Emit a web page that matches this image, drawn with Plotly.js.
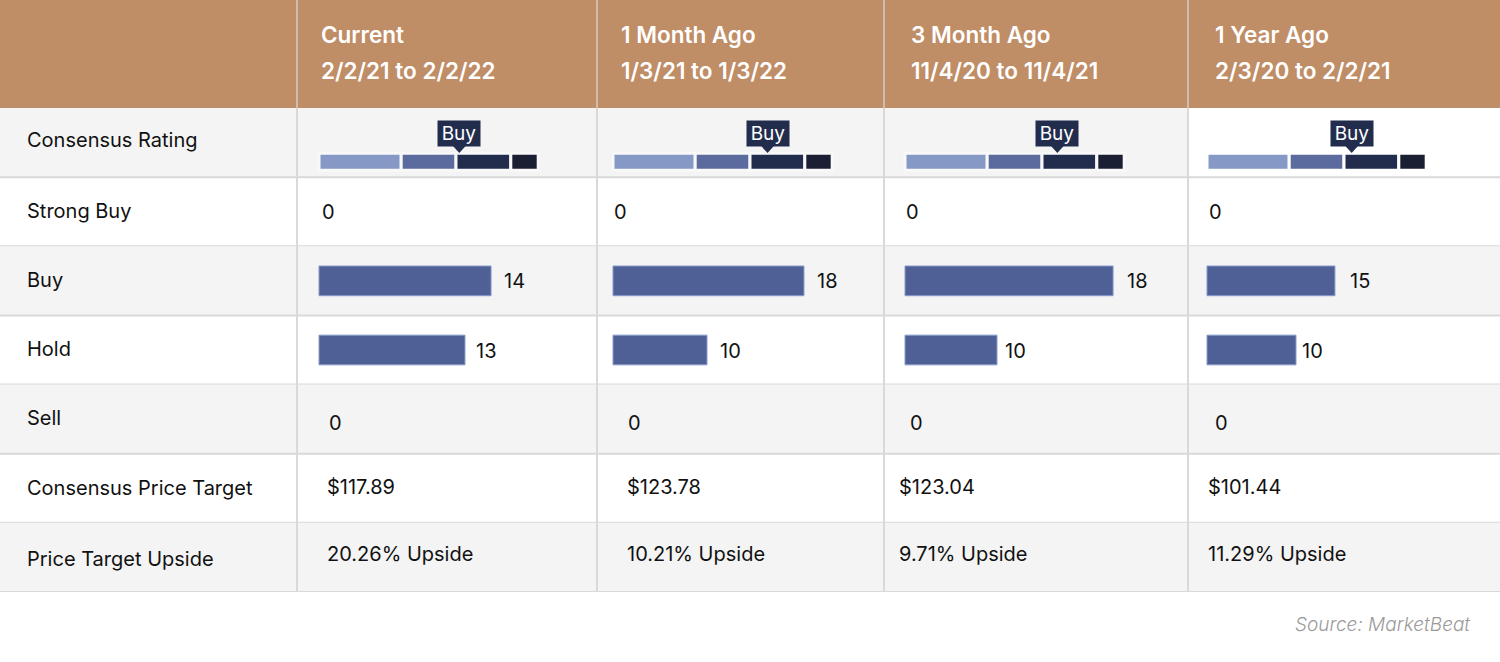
<!DOCTYPE html>
<html>
<head>
<meta charset="utf-8">
<script src="https://cdn.plot.ly/plotly-3.0.1.min.js"></script>
<style>html,body{margin:0;padding:0;background:#fff;}#chart{width:1500px;height:662px;}</style>
</head>
<body>
<div id="chart"></div>
<script>
// ---------------- DATA ----------------
const columnTitles = ['Current', '1 Month Ago', '3 Month Ago', '1 Year Ago'];
const columnPeriods = ['2/2/21 to 2/2/22', '1/3/21 to 1/3/22', '11/4/20 to 11/4/21', '2/3/20 to 2/2/21'];
const rowLabels = ['Consensus Rating', 'Strong Buy', 'Buy', 'Hold', 'Sell', 'Consensus Price Target', 'Price Target Upside'];
const ratingLabels = ['Buy', 'Buy', 'Buy', 'Buy'];
const ratingScores = [2.56, 2.82, 2.78, 2.64];
const strongBuyCounts = [0, 0, 0, 0];
const buyCounts = [14, 18, 18, 15];
const holdCounts = [13, 10, 10, 10];
const sellCounts = [0, 0, 0, 0];
const priceTargets = [117.89, 123.78, 123.04, 101.44];
const upsidePct = [20.26, 10.21, 9.71, 11.29];
const gaugeBandNames = ['Sell', 'Hold', 'Buy', 'Strong Buy'];
const gaugeBandStart = [0, 1.5, 2.5, 3.5];
const gaugeBandEnd = [1.5, 2.5, 3.5, 4];

// ---------------- STYLE / GEOMETRY ----------------
const W = 1500, H = 662;
const colEdges = [0, 297, 597, 884, 1188, 1500];
const headerBottom = 108, tableBottom = 592;
const barStartPx = [319, 613, 905, 1207];
const buyPxPerUnit = [12.29, 10.61, 11.56, 8.53];
const holdPxPerUnit = [11.23, 9.4, 9.2, 8.9];
const buyLabelGap = [11, 11, 12, 13];
const holdLabelGap = [9, 11, 6, 4];
const gaugePxPerUnit = 54.8;
const zeroX = [320, 612, 904, 1207];
const sellX = [327, 626, 908, 1213];
const textX = [325, 625, 897, 1206];
const headerX = [319, 619, 909, 1213];
const FONT = 'Inter, "Open Sans", sans-serif';
const TXT = '#111111';
const GRAY_BG = '#f4f4f4';
const LINE = '#d9d9d9';
const TAN = '#bf8d66';
const BAR = '#4e6096';
const gaugeColors = ['#8598c6', '#5b6b9e', '#222d4e', '#1b1f33'];
const nRows = rowLabels.length;
const BODY_SIZE = 20;
const HEAD_SIZE = 22.5;

const px2x = p => p / W;
const px2y = p => 1 - p / H;

const layout = {
  width: W, height: H,
  margin: {l: 0, r: 0, t: 0, b: 0},
  paper_bgcolor: '#ffffff', plot_bgcolor: 'rgba(0,0,0,0)',
  showlegend: false,
  barmode: 'overlay',
  font: {family: FONT, color: TXT},
  yaxis: {domain: [px2y(tableBottom), px2y(headerBottom)], range: [nRows - 0.5, -0.5],
          visible: false, fixedrange: true},
  shapes: [], annotations: []
};
const traces = [];
let axisId = 1;
function makeAxis(col, startPx, pxPerUnit) {
  const left = colEdges[col + 1], right = colEdges[col + 2];
  const name = axisId === 1 ? 'xaxis' : 'xaxis' + axisId;
  const ref = axisId === 1 ? 'x' : 'x' + axisId;
  layout[name] = {domain: [px2x(left), px2x(right)],
    range: [-(startPx - left) / pxPerUnit, (right - startPx) / pxPerUnit],
    visible: false, fixedrange: true, anchor: 'y'};
  axisId++;
  return ref;
}

// ---- backgrounds ----
layout.shapes.push({type: 'rect', xref: 'paper', yref: 'paper', x0: 0, x1: 1,
  y0: px2y(headerBottom), y1: 1, fillcolor: TAN, line: {width: 0}, layer: 'below'});
const rowIdxOf = name => rowLabels.indexOf(name);
rowLabels.forEach((r, i) => {
  if (i % 2 === 0) {
    const x1 = i === 0 ? px2x(colEdges[4]) : 1;
    layout.shapes.push({type: 'rect', xref: 'paper', yref: 'y', x0: 0, x1: x1,
      y0: i - 0.5, y1: i + 0.5, fillcolor: GRAY_BG, line: {width: 0}, layer: 'below'});
  }
  layout.shapes.push({type: 'line', xref: 'paper', yref: 'y', x0: 0, x1: 1,
    y0: i + 0.5, y1: i + 0.5, line: {color: LINE, width: 2}, layer: 'below'});
});
for (let c = 1; c <= 4; c++) {
  layout.shapes.push({type: 'line', xref: 'paper', yref: 'paper', x0: px2x(colEdges[c]), x1: px2x(colEdges[c]),
    y0: px2y(tableBottom), y1: px2y(headerBottom), line: {color: LINE, width: 2}, layer: 'below'});
  layout.shapes.push({type: 'line', xref: 'paper', yref: 'paper', x0: px2x(colEdges[c]), x1: px2x(colEdges[c]),
    y0: px2y(headerBottom), y1: 1, line: {color: '#d6cdc6', width: 1.5}, layer: 'below'});
}

// ---- header ----
columnTitles.forEach((t, c) => {
  layout.annotations.push({xref: 'paper', yref: 'paper', x: px2x(headerX[c]), y: px2y(35),
    xanchor: 'left', yanchor: 'middle', showarrow: false, text: t,
    font: {family: FONT, size: HEAD_SIZE, color: '#ffffff', weight: 600}});
  layout.annotations.push({xref: 'paper', yref: 'paper', x: px2x(headerX[c]), y: px2y(71),
    xanchor: 'left', yanchor: 'middle', showarrow: false, text: columnPeriods[c],
    font: {family: FONT, size: HEAD_SIZE, color: '#ffffff', weight: 600}});
});

// ---- row labels ----
const labelShift = [3, 1, 1, 1, 1, 0, -2];
rowLabels.forEach((r, i) => {
  layout.annotations.push({xref: 'paper', yref: 'y', x: px2x(25), y: i, yshift: labelShift[i],
    xanchor: 'left', yanchor: 'middle', showarrow: false, text: r,
    font: {family: FONT, size: BODY_SIZE, color: TXT}});
});

const bodyFont = {family: FONT, size: BODY_SIZE, color: TXT};
function cellText(col, pxX, row, text, yshift) {
  layout.annotations.push({xref: 'paper', yref: 'y', x: px2x(pxX), y: row, yshift: yshift || 0,
    xanchor: 'left', yanchor: 'middle', showarrow: false, text: text, font: bodyFont});
}

for (let c = 0; c < 4; c++) {
  // gauge
  const gx = makeAxis(c, barStartPx[c], gaugePxPerUnit);
  const r0 = rowIdxOf('Consensus Rating');
  traces.push({type: 'bar', orientation: 'h', xaxis: gx, yaxis: 'y',
    y: gaugeBandNames.map(() => r0),
    base: gaugeBandStart,
    x: gaugeBandEnd.map((e, k) => e - gaugeBandStart[k]),
    width: 0.245, offset: 0.155,
    marker: {color: gaugeColors, line: {color: c === 3 ? '#ffffff' : '#f8f8f8', width: 3}},
    text: gaugeBandNames, textposition: 'none', hoverinfo: 'text'});
  // pointer triangle
  const s = ratingScores[c];
  const hw = 7 / gaugePxPerUnit;
  layout.shapes.push({type: 'path', xref: gx, yref: 'y',
    path: `M ${s - hw} ${r0 + 0.04} L ${s + hw} ${r0 + 0.04} L ${s} ${r0 + 0.15} Z`,
    fillcolor: '#222d4e', line: {width: 0}});
  layout.annotations.push({xref: gx, yref: 'y', x: s, y: r0, yshift: 9,
    xanchor: 'center', yanchor: 'middle', showarrow: false, text: ratingLabels[c],
    width: 42, height: 25, bgcolor: '#222d4e', borderpad: 0,
    font: {family: FONT, size: 19, color: '#ffffff'}});

  // strong buy
  cellText(c, zeroX[c], rowIdxOf('Strong Buy'), String(strongBuyCounts[c]), 0);

  // buy bar
  const bx = makeAxis(c, barStartPx[c], buyPxPerUnit[c]);
  const rb = rowIdxOf('Buy');
  traces.push({type: 'bar', orientation: 'h', xaxis: bx, yaxis: 'y', x: [buyCounts[c]], y: [rb],
    width: 0.43, marker: {color: BAR, line: {color: '#8a9ccc', width: 1}}, hoverinfo: 'x'});
  layout.annotations.push({xref: bx, yref: 'y', x: buyCounts[c], y: rb, xshift: buyLabelGap[c],
    xanchor: 'left', yanchor: 'middle', showarrow: false, text: String(buyCounts[c]), font: bodyFont});

  // hold bar
  const hx = makeAxis(c, barStartPx[c], holdPxPerUnit[c]);
  const rh = rowIdxOf('Hold');
  traces.push({type: 'bar', orientation: 'h', xaxis: hx, yaxis: 'y', x: [holdCounts[c]], y: [rh],
    width: 0.43, marker: {color: BAR, line: {color: '#8a9ccc', width: 1}}, hoverinfo: 'x'});
  layout.annotations.push({xref: hx, yref: 'y', x: holdCounts[c], y: rh, xshift: holdLabelGap[c],
    yshift: -1, xanchor: 'left', yanchor: 'middle', showarrow: false, text: String(holdCounts[c]), font: bodyFont});

  // sell
  cellText(c, sellX[c], rowIdxOf('Sell'), String(sellCounts[c]), -4);
  // price target
  cellText(c, textX[c], rowIdxOf('Consensus Price Target'), '$' + priceTargets[c].toFixed(2), 1);
  // upside
  cellText(c, textX[c], rowIdxOf('Price Target Upside'), upsidePct[c].toFixed(2) + '% Upside', 3);
}

// ---- footer ----
layout.annotations.push({xref: 'paper', yref: 'paper', x: px2x(1472), y: px2y(624),
  xanchor: 'right', yanchor: 'middle', showarrow: false, text: '<i>Source: MarketBeat</i>',
  font: {family: FONT, size: 19, color: '#9a9a9a', weight: 300}});

Plotly.newPlot('chart', traces, layout, {displayModeBar: false, staticPlot: true});
</script>
</body>
</html>
